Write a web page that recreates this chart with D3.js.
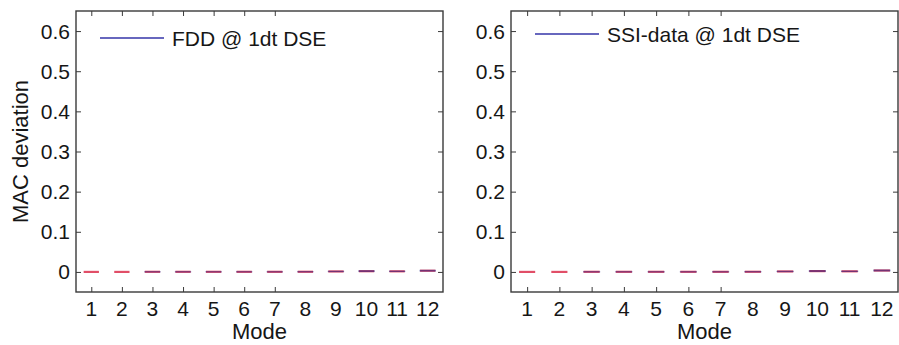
<!DOCTYPE html>
<html>
<head>
<meta charset="utf-8">
<script src="https://cdn.jsdelivr.net/npm/d3@7"></script>
<style>
  html, body { margin: 0; padding: 0; background: #fff; }
  svg { display: block; font-family: "Liberation Sans", Arial, Helvetica, sans-serif; }
</style>
</head>
<body>
<svg id="chart" width="899" height="345"></svg>
<script>
// ---- data ----
const modes = [1, 2, 3, 4, 5, 6, 7, 8, 9, 10, 11, 12];
const yTicks = [0, 0.1, 0.2, 0.3, 0.4, 0.5, 0.6];
const xTickMarks = [1, 2, 3, 4, 5, 6, 7];
const yDomain = [-0.05, 0.65];
const xDomain = [0.5, 12.5];

const titles = ["FDD @ 1dt DSE", "SSI-data @ 1dt DSE"];

// FDD: MAC deviation box statistics per mode
const fddMedian = [0, 0, 0.0003, 0.0003, 0.0003, 0.0003, 0.0003, 0.0004, 0.0012, 0.0018, 0.0015, 0.0030];
const fddQ1     = [0, 0, 0.0001, 0.0001, 0.0001, 0.0001, 0.0001, 0.0002, 0.0008, 0.0010, 0.0011, 0.0022];
const fddQ3     = [0, 0, 0.0005, 0.0005, 0.0005, 0.0005, 0.0005, 0.0007, 0.0016, 0.0030, 0.0019, 0.0040];

// SSI-data: MAC deviation box statistics per mode
const ssiMedian = [0, 0, 0.0003, 0.0003, 0.0003, 0.0003, 0.0003, 0.0004, 0.0012, 0.0020, 0.0015, 0.0035];
const ssiQ1     = [0, 0, 0.0001, 0.0001, 0.0001, 0.0001, 0.0001, 0.0002, 0.0008, 0.0012, 0.0011, 0.0026];
const ssiQ3     = [0, 0, 0.0005, 0.0005, 0.0005, 0.0005, 0.0005, 0.0007, 0.0016, 0.0032, 0.0019, 0.0046];

const panels = [
  { title: titles[0], median: fddMedian, q1: fddQ1, q3: fddQ3, left: 76, right: 443, legendY: 38, legendX: 100, ylabel: "MAC deviation" },
  { title: titles[1], median: ssiMedian, q1: ssiQ1, q3: ssiQ3, left: 511, right: 898, legendY: 34, legendX: 535, ylabel: null }
];

const svg = d3.select("#chart");
const plotTop = 11, plotBottom = 292;
const frameColor = "#3a3a3a";
const textColor = "#161616";

panels.forEach(p => {
  const x = d3.scaleLinear().domain(xDomain).range([p.left, p.right]);
  const y = d3.scaleLinear().domain(yDomain).range([plotBottom, plotTop]);
  const g = svg.append("g");

  // frame
  g.append("rect")
    .attr("x", p.left).attr("y", plotTop)
    .attr("width", p.right - p.left).attr("height", plotBottom - plotTop)
    .attr("fill", "none").attr("stroke", frameColor).attr("stroke-width", 1.4);

  // y ticks (inward, both sides) and labels
  const yAxisL = d3.axisRight(y).tickValues(yTicks).tickSize(5).tickFormat("");
  const gyL = g.append("g").attr("transform", `translate(${p.left},0)`).call(yAxisL);
  const yAxisR = d3.axisLeft(y).tickValues(yTicks).tickSize(5).tickFormat("");
  const gyR = g.append("g").attr("transform", `translate(${p.right},0)`).call(yAxisR);
  [gyL, gyR].forEach(a => {
    a.select(".domain").remove();
    a.selectAll("line").attr("stroke", frameColor).attr("stroke-width", 1);
  });
  g.selectAll(".ylab").data(yTicks).join("text")
    .attr("class", "ylab")
    .attr("x", p.left - 6)
    .attr("y", d => y(d))
    .attr("dy", "0.36em")
    .attr("text-anchor", "end")
    .attr("font-size", 21)
    .attr("fill", textColor)
    .text(d => d === 0 ? "0" : d3.format(".1f")(d));

  // x ticks (inward, top and bottom) and labels
  const xAxisB = d3.axisTop(x).tickValues(xTickMarks).tickSize(5).tickFormat("");
  const gxB = g.append("g").attr("transform", `translate(0,${plotBottom})`).call(xAxisB);
  const xAxisT = d3.axisBottom(x).tickValues(xTickMarks).tickSize(5).tickFormat("");
  const gxT = g.append("g").attr("transform", `translate(0,${plotTop})`).call(xAxisT);
  [gxB, gxT].forEach(a => {
    a.select(".domain").remove();
    a.selectAll("line").attr("stroke", frameColor).attr("stroke-width", 1);
  });
  g.selectAll(".xlab").data(modes).join("text")
    .attr("class", "xlab")
    .attr("x", d => x(d))
    .attr("y", 316)
    .attr("text-anchor", "middle")
    .attr("font-size", 21)
    .attr("fill", textColor)
    .text(d => d);

  // x axis title
  g.append("text")
    .attr("x", (p.left + p.right) / 2)
    .attr("y", 339)
    .attr("text-anchor", "middle")
    .attr("font-size", 22)
    .attr("fill", textColor)
    .text("Mode");

  if (p.ylabel) {
    g.append("text")
      .attr("transform", `translate(28,${(plotTop + plotBottom) / 2}) rotate(-90)`)
      .attr("text-anchor", "middle")
      .attr("font-size", 22)
      .attr("fill", textColor)
      .text(p.ylabel);
  }

  // boxes (blue, thin) and medians (red)
  const hw = 0.25;
  g.selectAll(".med").data(modes).join("line")
    .attr("class", "med")
    .attr("x1", (d) => x(d - hw))
    .attr("x2", (d) => x(d + hw))
    .attr("y1", (d, i) => y(p.median[i]))
    .attr("y2", (d, i) => y(p.median[i]))
    .attr("stroke", "#dc2f4c")
    .attr("stroke-opacity", 0.85)
    .attr("stroke-width", 2.2);
  g.selectAll(".box").data(modes).join("rect")
    .attr("class", "box")
    .attr("x", (d) => x(d - hw))
    .attr("width", (d) => x(d + hw) - x(d - hw))
    .attr("y", (d, i) => y(p.q3[i]))
    .attr("height", (d, i) => y(p.q1[i]) - y(p.q3[i]))
    .attr("fill", "none")
    .attr("stroke", "#1c1c80")
    .attr("stroke-opacity", 0.55)
    .attr("stroke-width", 1);

  // legend
  g.append("line")
    .attr("x1", p.legendX).attr("x2", p.legendX + 64)
    .attr("y1", p.legendY).attr("y2", p.legendY)
    .attr("stroke", "#3434a8").attr("stroke-width", 1.3);
  g.append("text")
    .attr("x", p.legendX + 72)
    .attr("y", p.legendY + 8)
    .attr("font-size", 21)
    .attr("fill", textColor)
    .text(p.title);
});
</script>
</body>
</html>
